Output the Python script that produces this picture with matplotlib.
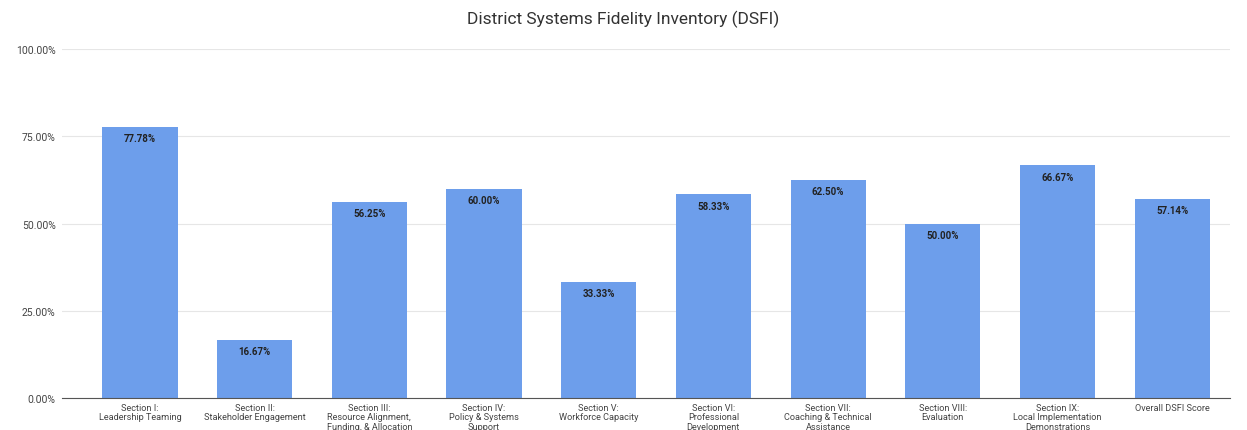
import matplotlib
matplotlib.use('Agg')
import matplotlib.pyplot as plt
from matplotlib.ticker import FuncFormatter

plt.rcParams['font.family'] = ['Roboto', 'DejaVu Sans']

# Data
categories = [
    'Section I:\nLeadership Teaming',
    'Section II:\nStakeholder Engagement',
    'Section III:\nResource Alignment,\nFunding, & Allocation',
    'Section IV:\nPolicy & Systems\nSupport',
    'Section V:\nWorkforce Capacity',
    'Section VI:\nProfessional\nDevelopment',
    'Section VII:\nCoaching & Technical\nAssistance',
    'Section VIII:\nEvaluation',
    'Section IX:\nLocal Implementation\nDemonstrations',
    'Overall DSFI Score',
]
scores = [77.78, 16.67, 56.25, 60.00, 33.33, 58.33, 62.50, 50.00, 66.67, 57.14]
y_ticks = [0, 25, 50, 75, 100]

fig = plt.figure(figsize=(12.47, 4.31), dpi=100)
ax = fig.add_axes([0.0497, 0.0742, 0.9363, 0.8098])

x = list(range(len(categories)))
bars = ax.bar(x, scores, width=0.655, color='#6d9eeb', zorder=2)

for rect, val in zip(bars, scores):
    ax.text(rect.get_x() + rect.get_width() / 2, rect.get_height() - 1.8,
            f'{val:.2f}%', ha='center', va='top', fontsize=7,
            fontweight='bold', color='#222222', zorder=3)

ax.set_ylim(0, 100)
ax.set_xlim(-0.68, 9.5)
ax.set_yticks(y_ticks)
ax.yaxis.set_major_formatter(FuncFormatter(lambda v, p: f'{v:.2f}%'))
ax.set_xticks(x)
ax.set_xticklabels(categories, fontsize=6.6, color='#444444', linespacing=1.05)
ax.tick_params(axis='y', labelsize=7.5, labelcolor='#444444', length=0, pad=4.5)
ax.tick_params(axis='x', length=0, pad=3.5)

ax.grid(True, axis='y', color='#e6e6e6', linewidth=0.8, zorder=0)
for side in ['top', 'right', 'left']:
    ax.spines[side].set_visible(False)
ax.spines['bottom'].set_color('#555555')
ax.spines['bottom'].set_linewidth(0.8)

fig.suptitle('District Systems Fidelity Inventory (DSFI)', y=0.975,
             fontsize=12.5, color='#333333')

fig.savefig('out.png', dpi=100)
